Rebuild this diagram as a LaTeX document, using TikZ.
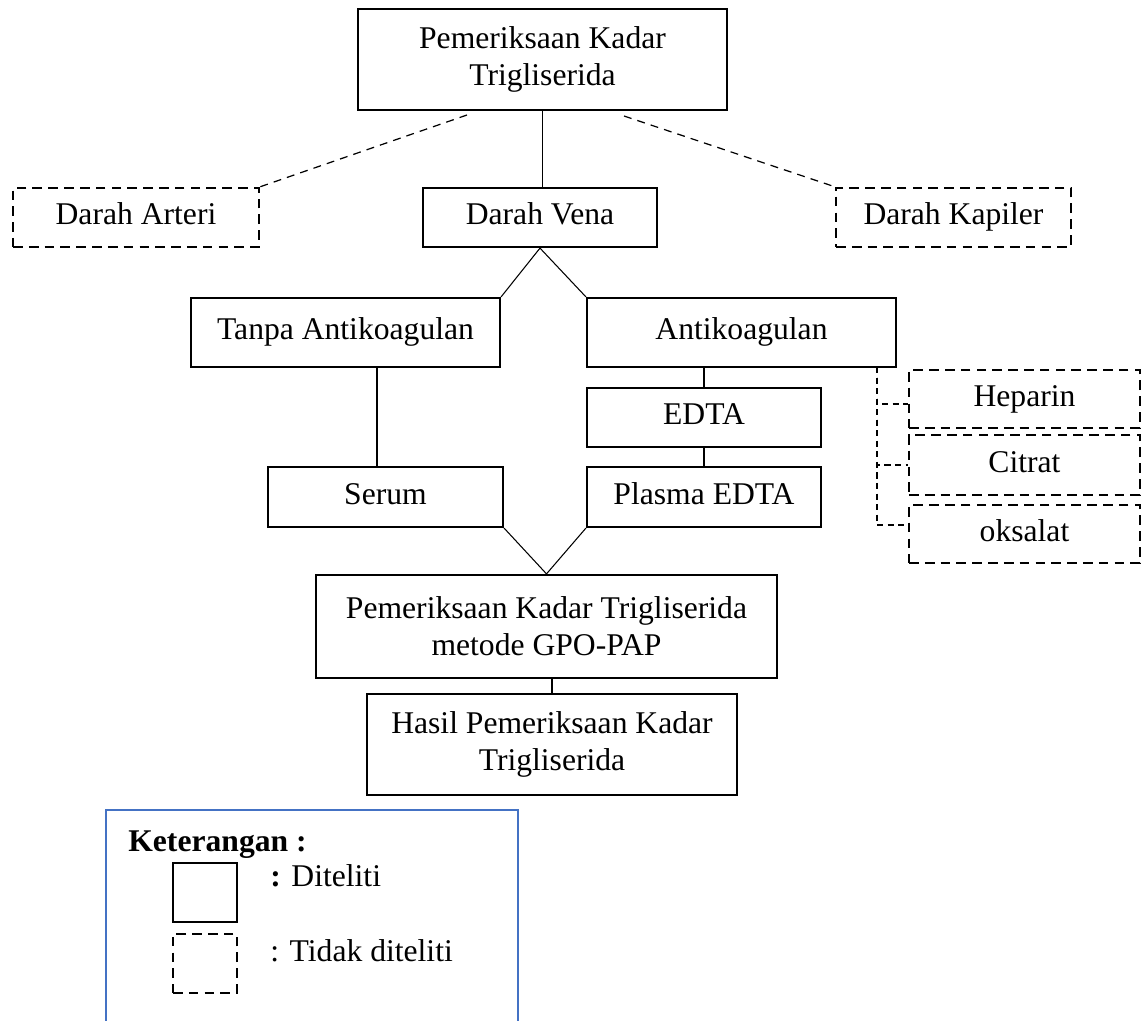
\documentclass[tikz,border=0pt]{standalone}
\usepackage{fontspec}
\setmainfont{Liberation Serif}
\definecolor{legblue}{RGB}{68,114,196}
\newcommand{\bodyfont}{\fontsize{18}{21}\selectfont}
\tikzset{
  box/.style={draw, line width=0.045cm, inner sep=0pt, align=center, font=\bodyfont},
  dbox/.style={box, line width=0.05cm, dash pattern=on 5.5pt off 3.5pt},
  oneline/.style={text height=12.5pt, text depth=4pt},
  link/.style={line width=0.6pt},
  dlink/.style={line width=0.7pt, dash pattern=on 4.5pt off 3.5pt},
  legtext/.style={anchor=base west, inner sep=0pt, font=\bodyfont}
}

\begin{document}
\begin{tikzpicture}[x=0.02cm, y=-0.02cm]
  \useasboundingbox (0,0) rectangle (1144,1021);
  % draw boxes of the flow
  \node[box, minimum width=7.38cm, minimum height=2.02cm] (top) at (542.5,59.5) {Pemeriksaan Kadar\\Trigliserida};
  \node[dbox, oneline, minimum width=4.92cm, minimum height=1.18cm] (arteri) at (136,217.5) {Darah Arteri};
  \node[box, oneline, minimum width=4.68cm, minimum height=1.18cm] (vena) at (540,217.5) {Darah Vena};
  \node[dbox, oneline, minimum width=4.70cm, minimum height=1.18cm] (kapiler) at (953.5,217.5) {Darah Kapiler};
  \node[box, oneline, minimum width=6.18cm, minimum height=1.38cm] (tanpa) at (345.5,332.5) {Tanpa Antikoagulan};
  \node[box, oneline, minimum width=6.18cm, minimum height=1.38cm] (anti) at (741.5,332.5) {Antikoagulan};
  \node[box, oneline, minimum width=4.68cm, minimum height=1.18cm] (edta) at (704,417.5) {EDTA};
  \node[box, oneline, minimum width=4.68cm, minimum height=1.20cm] (plasma) at (704,497) {Plasma EDTA};
  \node[box, oneline, minimum width=4.70cm, minimum height=1.20cm] (serum) at (385.5,497) {Serum};
  \node[dbox, oneline, minimum width=4.62cm, minimum height=1.16cm] (heparin) at (1024.5,399) {Heparin};
  \node[dbox, oneline, minimum width=4.62cm, minimum height=1.20cm] (citrat) at (1024.5,465) {Citrat};
  \node[dbox, oneline, minimum width=4.62cm, minimum height=1.16cm] (oksalat) at (1024.5,534) {oksalat};
  \node[box, minimum width=9.22cm, minimum height=2.06cm] (gpo) at (546.5,626.5) {Pemeriksaan Kadar Trigliserida\\metode GPO-PAP};
  \node[box, minimum width=7.40cm, minimum height=2.02cm] (hasil) at (552,744.5) {Hasil Pemeriksaan Kadar\\Trigliserida};
  % draw connectors
  \coordinate (arteri_end) at (467,115);
  \coordinate (kapiler_end) at (624,116);
  \coordinate (serum_top) at (377,367);
  \coordinate (anti_br) at (877,367);
  \draw[link] (top.south) -- (top.south |- vena.north);
  \draw[dlink] (arteri_end) -- (arteri.north east);
  \draw[dlink] (kapiler_end) -- (kapiler.north west);
  \draw[link] (tanpa.north east) -- (vena.south) -- (anti.north west);
  \draw[link] (serum_top) -- (serum_top |- serum.north);
  \draw[link] (edta.north |- anti.south) -- (edta.north);
  \draw[link] (edta.south) -- (plasma.north);
  \draw[link] (serum.south east) -- (gpo.north) -- (plasma.south west);
  \draw[link] (hasil.north |- gpo.south) -- (hasil.north);
  \draw[dlink, line width=0.6pt, dash pattern=on 3.5pt off 2.5pt] (anti_br) |- ([yshift=-0.1cm]heparin.west);
  \draw[dlink, line width=0.6pt, dash pattern=on 3.5pt off 2.5pt] (anti_br) |- (citrat.west);
  \draw[dlink, line width=0.6pt, dash pattern=on 3.5pt off 2.5pt] (anti_br) |- ([yshift=0.18cm]oksalat.west);
  % draw legend frame
  \draw[legblue, line width=0.04cm] (106,1021) -- (106,810) -- (518,810) -- (518,1021);
  \node[legtext, font=\bodyfont\bfseries] (legtitle) at (128,851) {Keterangan :};
  \node[box, minimum width=1.28cm, minimum height=1.18cm] (legsolid) at (205,892.5) {};
  \node[dbox, minimum width=1.28cm, minimum height=1.18cm] (legdash) at (205,963.5) {};
  \node[legtext] (legsolid_txt) at (270,886) {\textbf{:} Diteliti};
  \node[legtext] (legdash_txt) at (270,961) {: Tidak diteliti};
\end{tikzpicture}
\end{document}
